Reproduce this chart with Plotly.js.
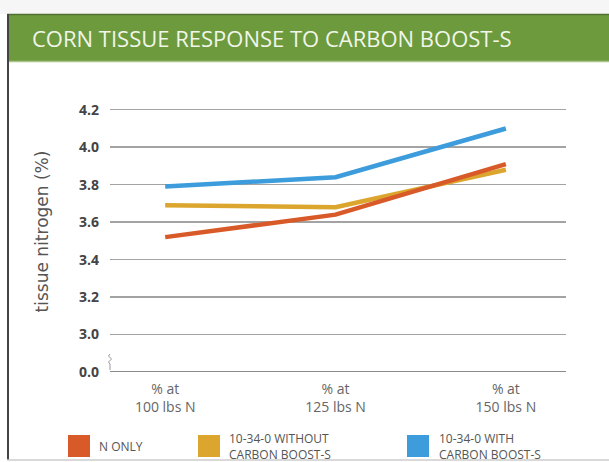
<!DOCTYPE html>
<html>
<head>
<meta charset="utf-8">
<script src="https://cdn.plot.ly/plotly-3.0.1.min.js"></script>
<style>
html,body{margin:0;padding:0;background:#fff;}
#chart{width:609px;height:462px;}
</style>
</head>
<body>
<div id="chart"></div>
<script>
// ---- data ----
const categories = ["% at<br>100 lbs N", "% at<br>125 lbs N", "% at<br>150 lbs N"];
const seriesNames = ["N ONLY", "10-34-0 WITHOUT<br>CARBON BOOST-S", "10-34-0 WITH<br>CARBON BOOST-S"];
const nOnly = [3.52, 3.64, 3.91];
const withoutBoost = [3.69, 3.68, 3.88];
const withBoost = [3.79, 3.84, 4.10];
const yTickVals = [2.8, 3.0, 3.2, 3.4, 3.6, 3.8, 4.0, 4.2];
const yTickText = ["0.0", "3.0", "3.2", "3.4", "3.6", "3.8", "4.0", "4.2"];
const colors = ["#d95a29", "#dba52e", "#3d9cdc"];

// ---- layout geometry ----
const W = 609, H = 462;
const M = {l: 110, r: 43, t: 91, b: 90};
const PW = W - M.l - M.r, PH = H - M.t - M.b;
const px = x => (x - M.l) / PW;
const py = y => (H - M.b - y) / PH;

const traces = [
  {x: categories, y: withBoost, name: seriesNames[2], color: colors[2]},
  {x: categories, y: withoutBoost, name: seriesNames[1], color: colors[1]},
  {x: categories, y: nOnly, name: seriesNames[0], color: colors[0]}
].map(t => ({
  type: 'scatter', mode: 'lines', x: t.x, y: t.y, name: t.name,
  line: {color: t.color, width: 4.5}, showlegend: false, hoverinfo: 'skip'
}));

const shapes = [
  // top light band
  {type:'rect', xref:'paper', yref:'paper', x0:px(0), x1:px(W), y0:py(14), y1:py(0), fillcolor:'#f6f6f6', line:{width:0}, layer:'below'},
  // title bar
  {type:'rect', xref:'paper', yref:'paper', x0:px(7), x1:px(W), y0:py(62), y1:py(14), fillcolor:'#6c9a3c', line:{width:0}, layer:'below'},
  {type:'line', xref:'paper', yref:'paper', x0:px(7), x1:px(W), y0:py(14.5), y1:py(14.5), line:{color:'#4f7230', width:1.5}},
  {type:'line', xref:'paper', yref:'paper', x0:px(7), x1:px(W), y0:py(61.5), y1:py(61.5), line:{color:'#a9c48a', width:1.5}},
  // left border
  {type:'line', xref:'paper', yref:'paper', x0:px(8), x1:px(8), y0:py(14), y1:py(460), line:{color:'#444', width:2}},
  // bottom line
  {type:'line', xref:'paper', yref:'paper', x0:px(7), x1:px(W), y0:py(460), y1:py(460), line:{color:'#ccc', width:1.5}},
  // axis break squiggle
  {type:'path', xref:'paper', yref:'paper',
   path: `M${px(110)},${py(370)} L${px(110)},${py(364)} L${px(108.5)},${py(362)} L${px(111.5)},${py(359)} L${px(108.5)},${py(356)} L${px(110)},${py(354)}`,
   line:{color:'#999', width:1}}
];

// legend swatches
const legendX = [68, 198, 407];
const legendTextX = [97, 227, 437];
const annotations = [];
seriesNames.forEach((n, i) => {
  shapes.push({type:'rect', xref:'paper', yref:'paper', x0:px(legendX[i]), x1:px(legendX[i]+22), y0:py(457), y1:py(435), fillcolor:colors[i], line:{width:0}});
  annotations.push({xref:'paper', yref:'paper', x:px(legendTextX[i]), y:py(446), xanchor:'left', yanchor:'middle', align:'left', text:n, showarrow:false,
    font:{family:'Open Sans', size:12, color:'#555'}});
});

const layout = {
  width: W, height: H,
  margin: M,
  paper_bgcolor: '#ffffff', plot_bgcolor: '#ffffff',
  showlegend: false,
  title: {text: 'CORN TISSUE RESPONSE TO CARBON BOOST-S', x: 32/W, xanchor: 'left', xref: 'container', y: 1 - 39/H, yanchor: 'middle', yref: 'container',
    font: {family: 'Open Sans', size: 22, color: '#f1f5ea'}},
  xaxis: {type: 'category', range: [-0.324, 2.353], showgrid: false, zeroline: false, showline: false,
    ticks: '', tickfont: {family: 'Open Sans', size: 14, color: '#666'}, ticklabelstandoff: 7},
  yaxis: {range: [2.8, 4.3], tickvals: yTickVals, ticktext: yTickText, showgrid: true, gridcolor: '#a3a3a3', gridwidth: 1.5,
    zeroline: false, showline: false, ticks: '', ticklabelstandoff: 10,
    tickfont: {family: 'Open Sans', size: 14, color: '#444', weight: 'bold'},
    title: {text: 'tissue nitrogen (%)', font: {family: 'DejaVu Sans', size: 17, color: '#555'}, standoff: 26}},
  shapes: shapes.concat([
    {type:'line', xref:'paper', yref:'y', x0:0, x1:1, y0:2.8, y1:2.8, line:{color:'#8a8a8a', width:2}}
  ]),
  annotations: annotations
};

Plotly.newPlot('chart', traces, layout, {staticPlot: true, displayModeBar: false});
</script>
</body>
</html>
